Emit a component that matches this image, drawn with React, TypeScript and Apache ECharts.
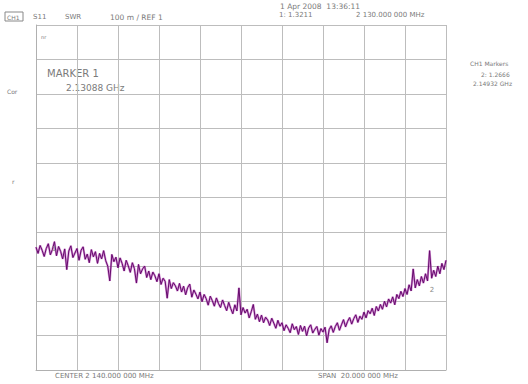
import React, { useEffect, useRef } from "react";
import * as echarts from "echarts";

// Stimulus: 201 points, start 2130 MHz, stop 2150 MHz
const startMHz = 2130;
const stopMHz = 2150;
const swrValues: number[] = [
  1.356, 1.338, 1.361, 1.347, 1.329, 1.352, 1.366, 1.334, 1.349, 1.372,
  1.331, 1.358, 1.344, 1.322, 1.351, 1.291, 1.345, 1.360, 1.326, 1.339,
  1.352, 1.318, 1.347, 1.357, 1.321, 1.336, 1.311, 1.349, 1.328, 1.343,
  1.309, 1.338, 1.322, 1.346, 1.317, 1.301, 1.258, 1.335, 1.314, 1.327,
  1.296, 1.325, 1.309, 1.287, 1.318, 1.302, 1.283, 1.311, 1.294, 1.252,
  1.306, 1.279, 1.293, 1.301, 1.268, 1.287, 1.262, 1.284, 1.273, 1.256,
  1.279, 1.248, 1.266, 1.257, 1.208, 1.262, 1.236, 1.253, 1.244, 1.229,
  1.251, 1.226, 1.243, 1.218, 1.239, 1.249, 1.211, 1.232, 1.220, 1.206,
  1.226, 1.198, 1.219, 1.207, 1.188, 1.214, 1.201, 1.185, 1.209, 1.193,
  1.181, 1.203, 1.187, 1.172, 1.196, 1.178, 1.163, 1.189, 1.171, 1.238,
  1.160, 1.181, 1.165, 1.176, 1.151, 1.169, 1.190, 1.147, 1.162, 1.140,
  1.159, 1.137, 1.153, 1.145, 1.129, 1.150, 1.136, 1.121, 1.144, 1.127,
  1.137, 1.114, 1.131, 1.121, 1.108, 1.134, 1.117, 1.126, 1.103, 1.129,
  1.112, 1.127, 1.099, 1.122, 1.131, 1.107, 1.118, 1.126, 1.101, 1.120,
  1.110, 1.124, 1.079, 1.117, 1.128, 1.109, 1.126, 1.137, 1.115, 1.131,
  1.146, 1.125, 1.141, 1.152, 1.133, 1.149, 1.160, 1.138, 1.156, 1.147,
  1.168, 1.151, 1.172, 1.163, 1.179, 1.158, 1.184, 1.171, 1.190, 1.176,
  1.199, 1.183, 1.206, 1.194, 1.212, 1.189, 1.219, 1.207, 1.228, 1.213,
  1.236, 1.219, 1.247, 1.229, 1.293, 1.238, 1.262, 1.244, 1.271, 1.252,
  1.279, 1.258, 1.346, 1.266, 1.289, 1.271, 1.301, 1.279, 1.309, 1.291,
  1.318,
];
const markerNames = ["1", "2"];
const markerFreqsMHz = [2130.88, 2149.32];
const markerSwr = [1.3211, 1.2666];

const TXT = "#7a7a7a";
const FONT = "DejaVu Sans";

function txt(text: string, x: number, y: number, size = 7, extra: any = {}) {
  return {
    type: "text",
    x,
    y,
    silent: true,
    style: {
      text,
      fill: TXT,
      fontSize: size,
      fontFamily: FONT,
      verticalAlign: "middle",
      ...extra,
    },
  };
}

export default function App() {
  const ref = useRef<HTMLDivElement>(null);
  useEffect(() => {
    document.body.style.margin = "0";
    const chart = echarts.init(ref.current!, null, { renderer: "svg" });
    const step = (stopMHz - startMHz) / (swrValues.length - 1);
    const data = swrValues.map((v, i) => [startMHz + i * step, v]);
    chart.setOption({
      animation: false,
      backgroundColor: "#ffffff",
      grid: { left: 36, right: 82, top: 25, bottom: 14 },
      xAxis: {
        type: "value",
        min: startMHz,
        max: stopMHz,
        interval: 2,
        axisLabel: { show: false },
        axisTick: { show: false },
        axisLine: { show: true, lineStyle: { color: "#b0b0b0", width: 1 } },
        splitLine: { show: true, lineStyle: { color: "#bdbdbd", width: 1 } },
      },
      yAxis: {
        type: "value",
        min: 1,
        max: 2,
        interval: 0.1,
        axisLabel: { show: false },
        axisTick: { show: false },
        axisLine: { show: true, lineStyle: { color: "#b0b0b0", width: 1 } },
        splitLine: { show: true, lineStyle: { color: "#bdbdbd", width: 1 } },
      },
      series: [
        {
          type: "line",
          data,
          showSymbol: false,
          silent: true,
          lineStyle: { color: "#b848b8", width: 2.2, opacity: 0.6 },
        },
        {
          type: "line",
          data,
          showSymbol: false,
          silent: true,
          lineStyle: { color: "#650a6c", width: 1 },
          markPoint: {
            symbol: "circle",
            symbolSize: 1,
            itemStyle: { color: "rgba(0,0,0,0)" },
            data: markerNames.map((n, i) => ({
              coord: [markerFreqsMHz[i], markerSwr[i]],
              label: {
                show: true,
                formatter: n,
                color: "#888",
                fontSize: 7,
                fontFamily: FONT,
                position: i === 0 ? "top" : "bottom",
                distance: i === 0 ? 6 : 8,
              },
            })),
          },
        },
      ],
      graphic: [
        {
          type: "rect",
          shape: { x: 5, y: 12, width: 18, height: 9 },
          style: { fill: "none", stroke: "#888", lineWidth: 1 },
          silent: true,
        },
        txt("CH1", 7, 17, 6),
        txt("S11", 33, 17),
        txt("SWR", 65, 17),
        txt("100 m / REF 1", 110, 17, 7.5),
        txt("1 Apr 2008  13:36:11", 280, 6, 7.5),
        txt("1: 1.3211", 279, 15, 7),
        txt("2 130.000 000 MHz", 356, 15, 7),
        txt("nr", 41, 37, 5),
        txt("MARKER 1", 47, 73, 10),
        txt("2.13088 GHz", 66, 88, 9),
        txt("Cor", 7, 91, 6),
        txt("r", 12, 181, 6),
        txt("CH1 Markers", 470, 63, 6),
        txt("2: 1.2666", 481, 74, 6),
        txt("2.14932 GHz", 473, 83, 6),
        txt("CENTER 2 140.000 000 MHz", 55, 376, 7),
        txt("SPAN  20.000 000 MHz", 318, 376, 7),
      ],
    });
    return () => chart.dispose();
  }, []);
  return (
    <div
      ref={ref}
      style={{ position: "fixed", left: 0, top: 0, width: 528, height: 384 }}
    />
  );
}
